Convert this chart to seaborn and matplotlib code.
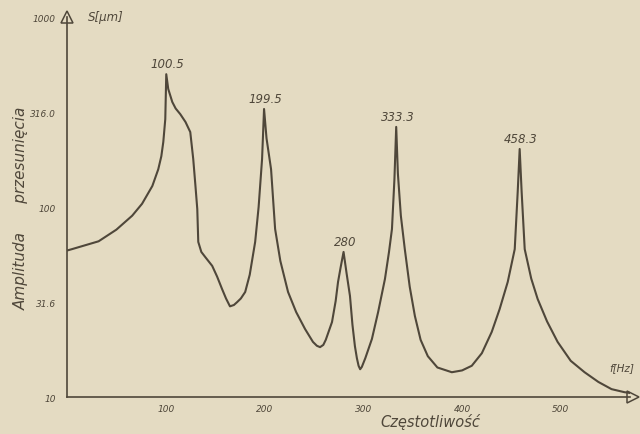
import matplotlib
matplotlib.use("Agg")
import matplotlib.pyplot as plt
import seaborn as sns
import pandas as pd

# ---- data ----
freq = [0, 5, 32, 50, 66, 76, 86.4, 92.4, 95.5, 97.5, 99.5, 100.5, 102.5, 106.6, 110,
        114.7, 120, 124.8, 127.8, 130, 131.9, 132.9, 136, 140, 147, 152, 157, 161,
        165, 169, 172.3, 176, 180.4, 185, 190.5, 194, 197.5, 199.5, 202, 206.6,
        210.7, 216, 223.8, 232, 241, 249, 253, 256.2, 259.5, 262, 268.3, 272, 274.4,
        277, 280, 283, 286.5, 289, 291.5, 293.5, 295.2, 296.8, 298.5, 302, 308.7,
        315, 321.9, 326, 329, 331.5, 333.3, 335, 338, 342, 347, 352.2, 358, 365.3,
        375, 389.6, 400, 409.8, 420, 430, 438, 446.2, 453.3, 456.3, 458.3, 460.3,
        463.4, 470, 476.5, 486, 496.7, 510, 524, 538, 551.3, 564.4, 570]
amp = [59, 60, 66, 76, 90, 104, 129, 158, 185, 220, 290, 500, 418, 357, 330,
       308, 280, 248, 179, 130, 97.5, 65.5, 58, 54.5, 49, 43, 37, 33,
       30, 30.5, 31.6, 33, 35.7, 44, 65.5, 100, 179, 328, 230, 158,
       76.6, 52, 35.7, 28, 22.8, 19.5, 18.6, 18.3, 18.8, 20, 24.8, 32, 40.3,
       48, 58, 45, 34, 24, 18.5, 16.0, 14.6, 14.0, 14.4, 16, 20.2,
       28, 41.8, 58, 76.6, 140, 264, 150, 90, 60, 38, 26.7, 20, 16.4,
       14.3, 13.5, 13.8, 14.6, 17, 22, 29, 40.3, 60, 120, 202, 120,
       60, 42, 32.8, 25, 19.5, 15.5, 13.5, 12, 11, 10.6, 10.5]

peak_freq = [100.5, 199.5, 280, 333.3, 458.3]
peak_amp = [500, 328, 58, 264, 202]
peak_labels = ["100.5", "199.5", "280", "333.3", "458.3"]

x_ticks = [100, 200, 300, 400, 500]
x_tick_labels = ["100", "200", "300", "400", "500"]
y_ticks = [10, 31.6, 100, 316, 1000]
y_tick_labels = ["10", "31.6", "100", "316.0", "1000"]

# ---- style ----
paper = "#e4dbc2"
ink = "#4f473a"
sns.set_style("white")
plt.rcParams["font.family"] = ["DejaVu Sans"]

fig = plt.figure(figsize=(6.4, 4.35), dpi=100, facecolor=paper)
ax = fig.add_axes([67 / 640, 1 - 398 / 435, (630 - 67) / 640, (398 - 18) / 435])
ax.set_facecolor(paper)

df = pd.DataFrame({"f": freq, "S": amp})
sns.lineplot(data=df, x="f", y="S", ax=ax, color=ink, linewidth=1.5,
             estimator=None, sort=False)

ax.set_yscale("log")
ax.set_xlim(0, 570)
ax.set_ylim(10, 1000)

ax.set_xticks(x_ticks)
ax.set_xticklabels(x_tick_labels, fontsize=6.5, style="italic", color=ink)
ax.set_yticks(y_ticks)
ax.set_yticklabels(y_tick_labels, fontsize=6.5, style="italic", color=ink)
ax.yaxis.set_minor_locator(matplotlib.ticker.NullLocator())
ax.tick_params(axis="x", length=0, pad=5)
ax.tick_params(axis="y", length=0, pad=8)

for s in ["top", "right"]:
    ax.spines[s].set_visible(False)
for s in ["left", "bottom"]:
    ax.spines[s].set_color(ink)
    ax.spines[s].set_linewidth(1.2)

# axis arrows
ax.plot([0], [1.0], marker="^", markersize=9, markerfacecolor="none",
        markeredgecolor=ink, markeredgewidth=1.1, transform=ax.transAxes, clip_on=False)
ax.plot([1.005], [0], marker=">", markersize=9, markerfacecolor="none",
        markeredgecolor=ink, markeredgewidth=1.1, transform=ax.transAxes, clip_on=False)

ax.set_xlabel("Częstotliwość", fontsize=10.5, style="italic", color=ink)
ax.xaxis.set_label_coords((430 - 67) / 563, -0.042)
ax.set_ylabel("Amplituda      przesunięcia", fontsize=11, style="italic", color=ink)
ax.yaxis.set_label_coords(-0.068, 0.50)

ax.text(0.037, 1.0, "S[μm]", transform=ax.transAxes, fontsize=8.5, style="italic",
        color=ink, ha="left", va="center")
ax.text(0.985, 0.08, "f[Hz]", transform=ax.transAxes, fontsize=7.5, style="italic",
        color=ink, ha="center", va="center")

for f, a, lab in zip(peak_freq, peak_amp, peak_labels):
    ax.annotate(lab, (f, a), xytext=(1, 3), textcoords="offset points",
                ha="center", va="bottom", fontsize=8.5, style="italic", color=ink)

fig.savefig("out.png", dpi=100, facecolor=paper)
